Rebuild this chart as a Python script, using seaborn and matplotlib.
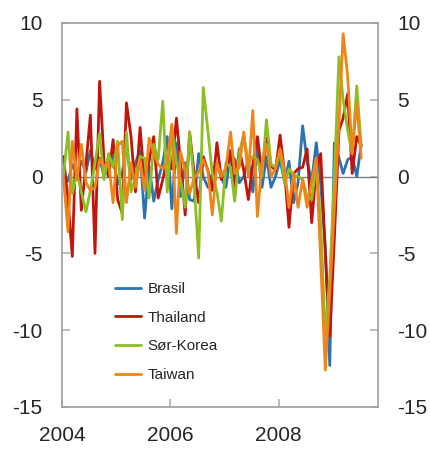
import matplotlib
matplotlib.use("Agg")
import matplotlib.pyplot as plt
import matplotlib.dates as mdates
import seaborn as sns
import pandas as pd

# Monthly changes, Jan 2004 - Jul 2009
months = pd.date_range("2004-01-01", periods=67, freq="MS") + pd.Timedelta(days=10)

brasil = [-0.2, -0.3, 0.8, 0.2, 1.0, 0.3, 1.7, 0.5, 1.2, 0.0, 0.6, 1.3, -0.5, 0.2, 2.0,
          -0.2, 0.9, 1.7, -2.7, 0.7, -1.6, -0.2, 0.9, 2.6, -2.1, 2.2, -1.3, 0.9, -1.5,
          -1.6, 1.5, 0.0, -0.7, 0.2, 0.9, -0.1, -0.7, 1.5, 1.1, -0.4, 0.0, 1.1, -1.0,
          1.8, -0.7, 1.3, -0.7, 0.0, 1.1, -0.4, 1.0, -1.7, -0.4, 3.3, 1.0, -0.3, 2.2,
          -0.5, -4.6, -12.3, 2.2, 1.2, 0.2, 1.1, 1.3, 0.0, 2.1]
thailand = [1.3, -1.5, -5.2, 4.4, -2.2, 0.8, 4.0, -5.0, 6.2, 1.0, 0.0, 2.4, -1.5, -2.4, 4.8,
            2.6, -1.0, 3.2, -0.4, 1.0, 2.6, -1.4, -0.2, 1.2, 0.5, 3.8, 0.9, -2.5, 2.9,
            0.2, -1.7, 1.3, 0.4, -0.9, 2.2, -0.2, 0.4, 1.7, -0.7, 1.8, 0.4, -1.5, 0.8,
            2.6, 0.2, 2.5, 0.7, 0.4, 2.7, 0.2, -3.3, 0.2, 0.5, 0.6, 1.8, -3.0, 0.5,
            1.5, -5.0, -10.4, -4.0, 3.0, 3.8, 5.4, 0.2, 2.6, 2.0]
sor_korea = [0.0, 2.9, -1.1, 0.2, -1.0, -2.3, -0.9, 0.9, 2.8, -0.2, 1.5, 0.6, 2.3, -2.8, 2.9,
             -1.0, 0.0, 1.3, 1.2, -1.4, 2.1, 1.1, 4.9, -1.0, 3.2, 0.9, -0.2, -2.0, 2.9,
             -0.5, -5.3, 5.8, 3.0, 0.2, -1.0, -2.9, 0.9, 0.6, -1.6, 1.6, 2.7, 0.9, 1.3,
             1.1, 0.0, 3.7, 0.8, 0.6, 1.7, -0.5, 0.5, 0.1, 0.0, -0.2, -1.3, -1.5, 0.7,
             -3.0, -10.4, -6.5, 0.0, 7.8, 5.0, 3.0, 1.5, 5.9, 2.0]
taiwan = [0.0, -3.6, 2.3, -0.2, 2.1, -0.4, -0.9, -0.7, 1.1, 0.7, 0.9, -1.7, 2.0, 2.3, -1.7,
          0.9, -0.7, 1.1, -0.9, 2.5, 1.5, 0.8, 0.5, 1.0, 3.4, -3.7, 1.6, 0.4, -1.1,
          -0.1, 0.3, 1.1, 0.4, -2.5, 0.9, 0.0, 0.6, 2.9, 0.2, 0.6, 2.9, 0.0, 4.3,
          -2.6, 0.9, 2.1, 0.0, 0.5, 1.8, 0.4, -2.0, 0.2, -2.0, -0.2, -2.0, -0.3, 1.2,
          -5.5, -12.6, -7.5, -2.0, 3.5, 9.3, 6.5, 1.5, 4.8, 1.2]

countries = ["Brasil", "Thailand", "Sør-Korea", "Taiwan"]
colors = ["#2b73b0", "#c0150d", "#8cbf26", "#ef8418"]

df = pd.concat([
    pd.DataFrame({"dato": months, "verdi": vals, "land": name})
    for name, vals in zip(countries, [brasil, thailand, sor_korea, taiwan])
])

sns.set_style("white")
plt.rcParams["font.family"] = ["Liberation Sans", "DejaVu Sans"]
plt.rcParams["axes.unicode_minus"] = False

fig = plt.figure(figsize=(4.3, 4.5), dpi=100)
ax = fig.add_axes([0.144, 0.0956, 0.735, 0.8534])

ax.axhline(0, color="#808080", lw=1, zorder=1)
sns.lineplot(data=df, x="dato", y="verdi", hue="land", hue_order=countries,
             palette=colors, linewidth=2.0, ax=ax, zorder=2)

ax.set_ylim(-15, 10)
ax.set_yticks([-15, -10, -5, 0, 5, 10])
ax.set_xlim(pd.Timestamp("2004-01-01"), pd.Timestamp("2009-11-01"))
ax.set_xticks([pd.Timestamp(f"{y}-01-01") for y in (2004, 2006, 2008)])
ax.xaxis.set_major_formatter(mdates.DateFormatter("%Y"))
ax.set_xlabel("")
ax.set_ylabel("")

for s in ax.spines.values():
    s.set_color("#a0a0a0")
    s.set_linewidth(1.2)

ax.tick_params(axis="y", direction="in", length=6, width=1.2, color="#b0b0b0",
               left=True, right=True, labelleft=True, labelright=True,
               labelsize=15, pad=14)
ax.tick_params(axis="x", direction="in", length=6, width=1.2, color="#b0b0b0",
               bottom=True, labelsize=15, pad=14)

leg = ax.legend(loc="center left", bbox_to_anchor=(0.125, 0.195), frameon=False,
                fontsize=11, handlelength=1.7, handletextpad=0.4, labelspacing=0.95)
for line in leg.get_lines():
    line.set_linewidth(2.0)

fig.savefig("out.png", dpi=100)
